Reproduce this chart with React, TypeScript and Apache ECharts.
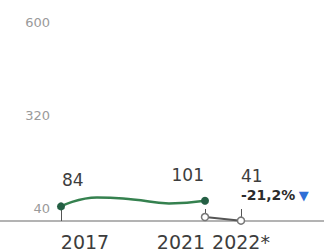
import React, { useEffect, useRef } from "react";
import * as echarts from "echarts";

const greenYears = [2017, 2018, 2019, 2020, 2021];
const greenValues = [84, 111, 105, 93, 101];
const darkYears = [2021, 2022];
const darkValues = [52, 41];
const tickYears = [2017, 2021, 2022];
const tickLabels = ["2017", "2021", "2022*"];
const yTicks = { min: 40, max: 600, interval: 280 };
const xRange = { min: 2015.306, max: 2024.306 };

export default function App() {
  const ref = useRef<HTMLDivElement>(null);
  useEffect(() => {
    document.body.style.margin = "0";
    if (!ref.current) return;
    const chart = echarts.init(ref.current, null, { renderer: "svg" });
    const font = "DejaVu Sans";
    const lastG = greenValues.length - 1;
    const d0 = darkValues[0];
    const d1 = darkValues[darkValues.length - 1];
    const pct = ((d1 / d0 - 1) * 100).toFixed(1).replace(".", ",");

    const greenData = greenValues.map((v, i) => {
      const value = [greenYears[i], v];
      if (i === 0) {
        return {
          value,
          symbol: "circle",
          symbolSize: 8,
          label: { show: true, position: "top", align: "left", offset: [1, -7] },
        };
      }
      if (i === lastG) {
        return {
          value,
          symbol: "circle",
          symbolSize: 8,
          label: { show: true, position: "top", align: "right", offset: [-1, -7] },
        };
      }
      return { value, symbol: "none" };
    });

    const darkData = darkValues.map((v, i) => {
      const value = [darkYears[i], v];
      if (i === darkValues.length - 1) {
        return {
          value,
          label: {
            show: true,
            position: "top",
            align: "left",
            verticalAlign: "bottom",
            offset: [0, -7],
            formatter: () => `{v|${v}}\n{p|${pct}%} {t|▼}`,
            rich: {
              v: { fontFamily: font, fontSize: 17, lineHeight: 20, color: "#3d3d3d" },
              p: { fontFamily: font, fontSize: 14, fontWeight: "bold", lineHeight: 18, color: "#2b2b2b" },
              t: { fontFamily: font, fontSize: 13, lineHeight: 18, color: "#2f6fd6" },
            },
          },
        };
      }
      return { value };
    });

    const labelW = 48;
    const xl = { fontFamily: font, fontSize: 19, color: "#3d3d3d" };
    chart.setOption({
      animation: false,
      grid: { left: 0, right: 0, top: 35, bottom: 31, containLabel: false },
      xAxis: {
        type: "value",
        min: xRange.min,
        max: xRange.max,
        axisLine: { onZero: false, lineStyle: { color: "#9a9a9a", width: 1.5 } },
        axisTick: {
          show: true,
          inside: true,
          length: 12,
          customValues: tickYears,
          lineStyle: { color: "#555", width: 1 },
        },
        axisLabel: {
          customValues: tickYears,
          formatter: (v: number) => {
            const i = tickYears.indexOf(Math.round(v));
            const t = tickLabels[i];
            if (i === 0) return `{l|${t}}`;
            if (i === 1) return `{r|${t}}`;
            return `{c|${t}}`;
          },
          rich: {
            l: { ...xl, padding: [0, 0, 0, labelW] },
            r: { ...xl, padding: [0, labelW, 0, 0] },
            c: { ...xl },
          },
          ...xl,
          margin: 11,
        },
        splitLine: { show: false },
      },
      yAxis: {
        type: "value",
        min: yTicks.min,
        max: yTicks.max,
        interval: yTicks.interval,
        offset: -58,
        axisLine: { show: false },
        axisTick: { show: false },
        splitLine: { show: false },
        axisLabel: {
          fontFamily: font,
          fontSize: 13,
          color: "#9a9a9a",
          verticalAlign: "bottom",
          padding: [0, 0, 6, 0],
          margin: 8,
        },
      },
      series: [
        {
          type: "line",
          data: darkData,
          symbol: "circle",
          symbolSize: 7,
          showSymbol: true,
          lineStyle: { color: "#555", width: 2 },
          itemStyle: { color: "#fff", borderColor: "#777", borderWidth: 1.5 },
          z: 2,
        },
        {
          type: "line",
          data: greenData,
          smooth: 0.5,
          showSymbol: true,
          lineStyle: { color: "#35814f", width: 2.5 },
          itemStyle: { color: "#245f44" },
          label: { fontFamily: font, fontSize: 17, lineHeight: 20, color: "#3d3d3d" },
          z: 3,
        },
      ],
    });
    return () => chart.dispose();
  }, []);
  return <div ref={ref} style={{ width: 324, height: 252 }} />;
}
